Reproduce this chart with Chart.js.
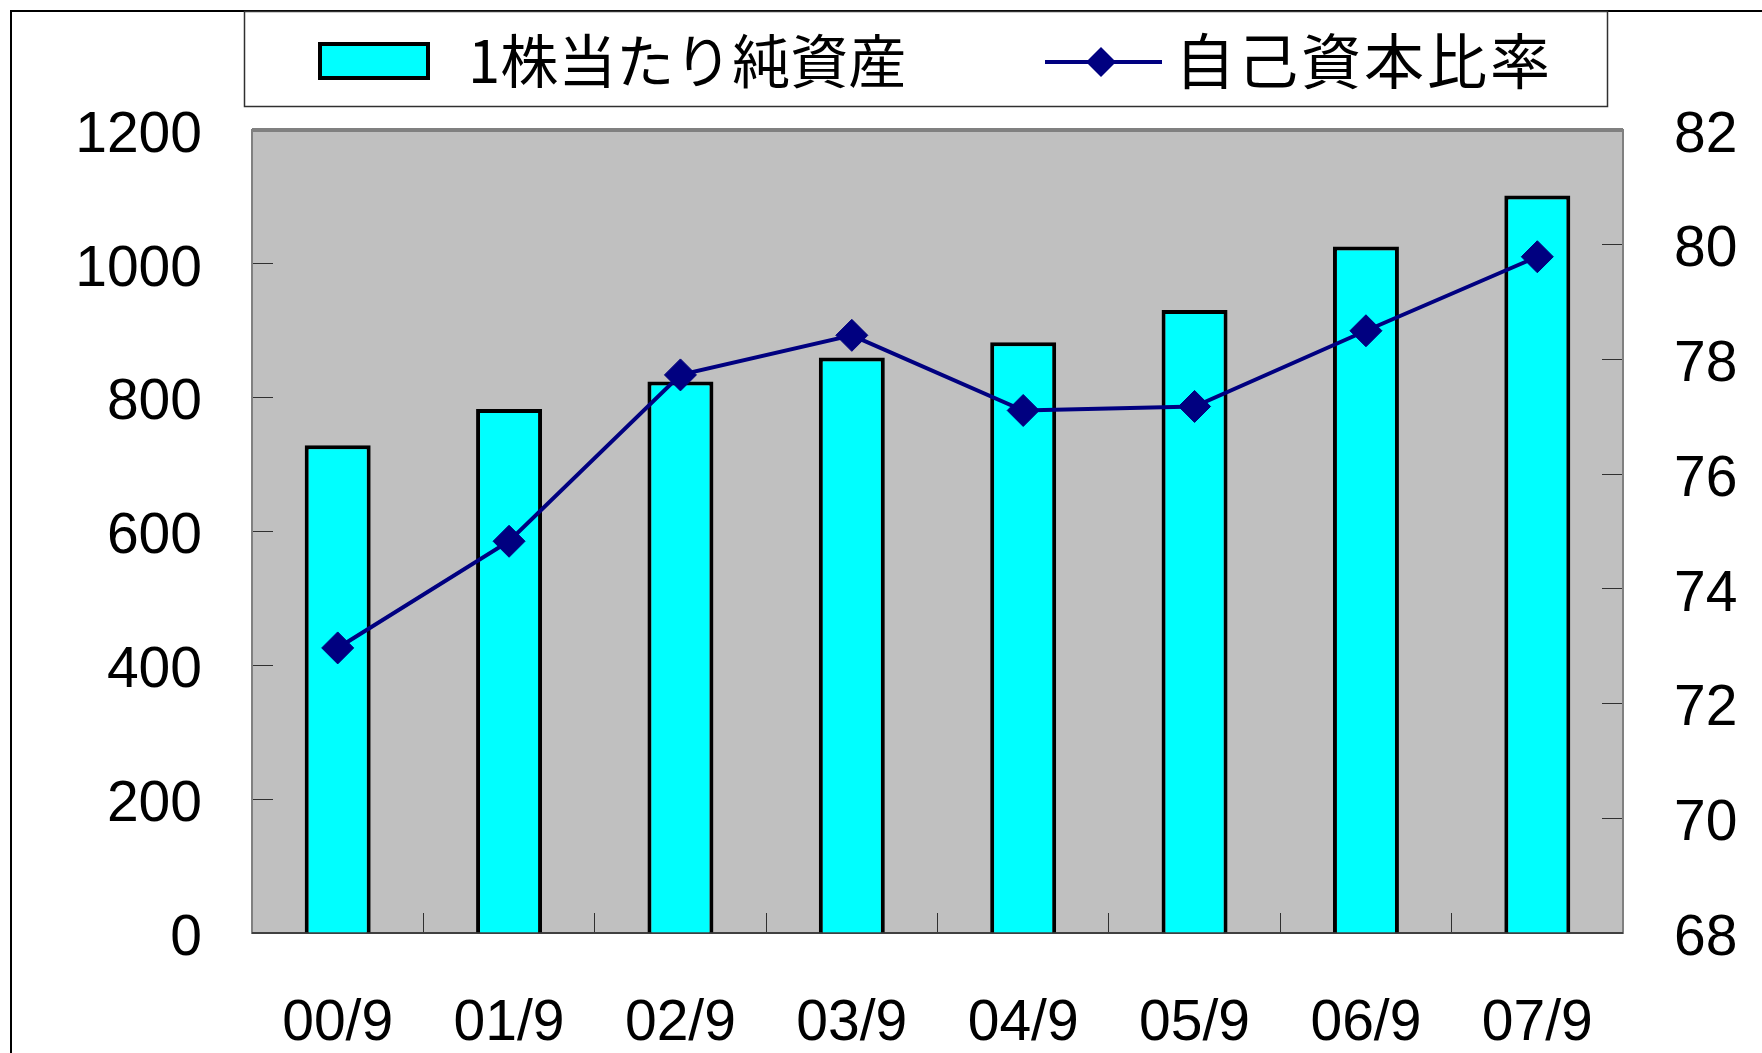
<!DOCTYPE html>
<html lang="ja">
<head>
<meta charset="utf-8">
<title>1株当たり純資産・自己資本比率</title>
<script src="https://cdn.jsdelivr.net/npm/chart.js@4.4.1/dist/chart.umd.min.js"></script>
<style>
  html, body { margin: 0; padding: 0; background: #fff; }
  #wrap { width: 1762px; height: 1053px; }
</style>
</head>
<body>
<div id="wrap"><canvas id="chart" width="1762" height="1053"></canvas></div>
<script>
// values
const periods = ['00/9', '01/9', '02/9', '03/9', '04/9', '05/9', '06/9', '07/9'];
const netAssetsPerShare = [729, 783, 824, 860, 883, 931, 1026, 1102];
const equityRatio = [72.97, 74.83, 77.73, 78.42, 77.11, 77.18, 78.50, 79.79];
const leftTicks = [0, 200, 400, 600, 800, 1000, 1200];
const rightTicks = [68, 70, 72, 74, 76, 78, 80, 82];

const NUM_FONT = '"Liberation Sans", Arial, sans-serif';
const JP_FONT = '"Noto Sans CJK JP", "Liberation Sans", sans-serif';
const NAVY = '#000080';

// gray plot background, outer frame and plot border
const framePlugin = {
  id: 'frame',
  beforeDraw(chart) {
    const { ctx, chartArea: a } = chart;
    ctx.save();
    ctx.fillStyle = '#fff';
    ctx.fillRect(0, 0, chart.width, chart.height);
    // outer chart border (only left/top are inside the picture)
    ctx.strokeStyle = '#000';
    ctx.lineWidth = 2;
    ctx.beginPath();
    ctx.moveTo(11, chart.height);
    ctx.lineTo(11, 11);
    ctx.lineTo(chart.width, 11);
    ctx.stroke();
    ctx.fillStyle = '#c0c0c0';
    ctx.fillRect(a.left, a.top, a.width, a.height);
    ctx.restore();
  },
  beforeDatasetsDraw(chart) {
    const { ctx, chartArea: a } = chart;
    ctx.save();
    ctx.strokeStyle = '#808080';
    ctx.lineWidth = 2;
    ctx.strokeRect(a.left, a.top, a.width, a.height);
    ctx.lineWidth = 4;
    ctx.beginPath();
    ctx.moveTo(a.left, a.top);
    ctx.lineTo(a.right, a.top);
    ctx.stroke();
    ctx.strokeStyle = '#404040';
    ctx.lineWidth = 2;
    ctx.beginPath();
    ctx.moveTo(a.left, a.bottom);
    ctx.lineTo(a.right, a.bottom);
    ctx.stroke();
    ctx.restore();
  }
};

// boxed legend at the top, like the spreadsheet one
const legendPlugin = {
  id: 'boxLegend',
  afterDraw(chart) {
    const ctx = chart.ctx;
    const bars = chart.data.datasets.find(d => d.type === 'bar');
    const line = chart.data.datasets.find(d => d.type === 'line');
    const midY = 61;
    ctx.save();
    ctx.strokeStyle = '#303030';
    ctx.lineWidth = 1.5;
    ctx.strokeRect(244.5, 11.5, 1363, 95);

    // bar swatch
    ctx.fillStyle = bars.backgroundColor;
    ctx.fillRect(318, 42, 112, 38);
    ctx.strokeStyle = bars.borderColor;
    ctx.lineWidth = 4;
    ctx.strokeRect(320, 44, 108, 34);

    // line swatch with diamond
    ctx.strokeStyle = line.borderColor;
    ctx.lineWidth = 4;
    ctx.beginPath();
    ctx.moveTo(1045, midY + 1);
    ctx.lineTo(1162, midY + 1);
    ctx.stroke();
    const dx = 1101, dy = midY + 1, r = 15;
    ctx.fillStyle = line.backgroundColor;
    ctx.beginPath();
    ctx.moveTo(dx, dy - r);
    ctx.lineTo(dx + r, dy);
    ctx.lineTo(dx, dy + r);
    ctx.lineTo(dx - r, dy);
    ctx.closePath();
    ctx.fill();

    ctx.fillStyle = '#000';
    ctx.textBaseline = 'middle';
    ctx.textAlign = 'left';
    ctx.font = '58px ' + JP_FONT;
    ctx.fillText(bars.label, 468, midY);
    ctx.font = '60px ' + JP_FONT;
    ctx.letterSpacing = '3px';
    ctx.fillText(line.label, 1175, midY);
    ctx.restore();
  }
};

const tickFont = { family: NUM_FONT, size: 57, lineHeight: 1 };
const plainNumber = v => String(v);

new Chart(document.getElementById('chart'), {
  data: {
    labels: periods,
    datasets: [
      {
        type: 'line',
        label: '自己資本比率',
        data: equityRatio,
        yAxisID: 'yRight',
        borderColor: NAVY,
        backgroundColor: NAVY,
        borderWidth: 4,
        pointStyle: 'rectRot',
        pointRadius: 16,
        pointBorderWidth: 1,
        tension: 0,
        order: 0
      },
      {
        type: 'bar',
        label: '1株当たり純資産',
        data: netAssetsPerShare,
        yAxisID: 'yLeft',
        backgroundColor: '#00ffff',
        borderColor: '#000000',
        borderWidth: 4,
        barPercentage: 0.385,
        categoryPercentage: 1,
        order: 1
      }
    ]
  },
  options: {
    responsive: false,
    animation: false,
    layout: { padding: { top: 130, left: 0, right: 0, bottom: 0 } },
    plugins: {
      legend: { display: false },
      tooltip: { enabled: false }
    },
    scales: {
      x: {
        grid: { drawOnChartArea: false, tickLength: -20, color: '#303030', lineWidth: 1, offset: true },
        border: { display: false },
        ticks: { font: tickFont, color: '#000', padding: 83, maxRotation: 0, autoSkip: false },
        afterFit: s => { s.height = 120; }
      },
      yLeft: {
        position: 'left',
        min: 0,
        max: 1200,
        afterBuildTicks: s => { s.ticks = leftTicks.map(v => ({ value: v })); },
        grid: { drawOnChartArea: false, tickLength: -21, color: '#303030' },
        border: { display: false },
        ticks: { font: tickFont, color: '#000', padding: 71, labelOffset: 6, callback: plainNumber },
        afterFit: s => { s.width = 252; }
      },
      yRight: {
        position: 'right',
        min: 68,
        max: 82,
        afterBuildTicks: s => { s.ticks = rightTicks.map(v => ({ value: v })); },
        grid: { drawOnChartArea: false, tickLength: -21, color: '#303030' },
        border: { display: false },
        ticks: { font: tickFont, color: '#000', padding: 72, labelOffset: 6, callback: plainNumber },
        afterFit: s => { s.width = 139; }
      }
    }
  },
  plugins: [framePlugin, legendPlugin]
});
</script>
</body>
</html>
